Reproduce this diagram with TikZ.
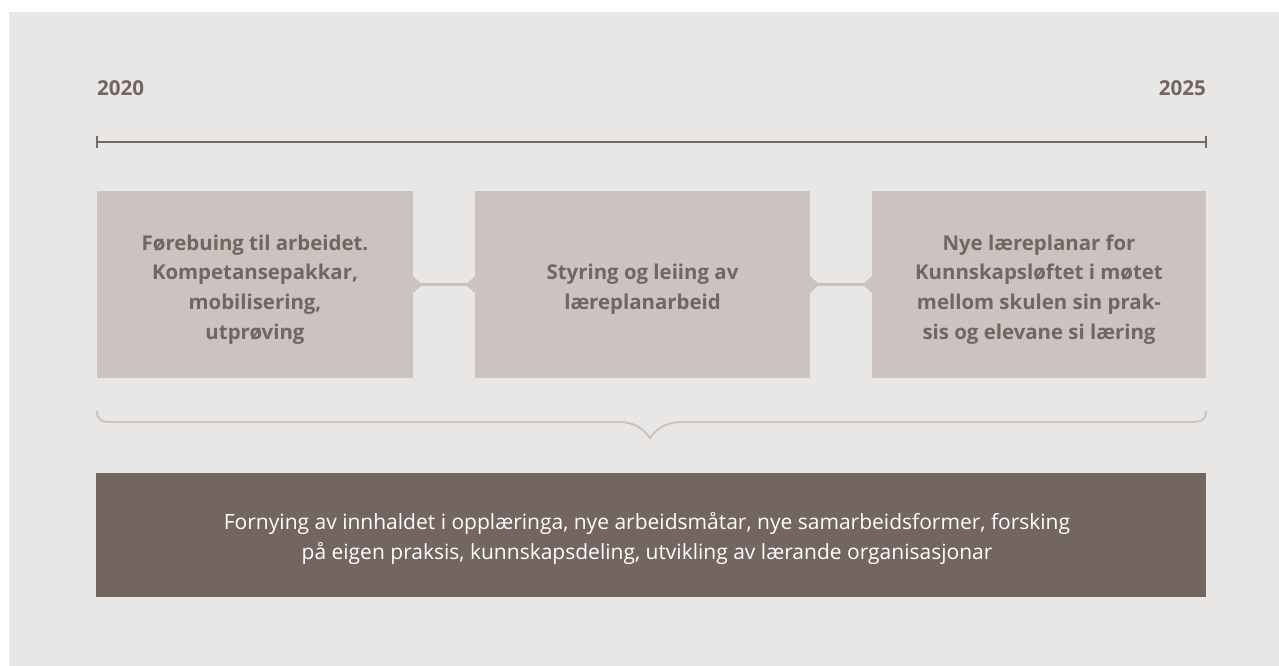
\documentclass[tikz,border=0pt]{standalone}
\usepackage{fontspec}
\setmainfont{Open Sans}
\usetikzlibrary{calc}
\definecolor{bgc}{HTML}{E9E7E5}
\definecolor{boxc}{HTML}{CBC3C0}
\definecolor{darkc}{HTML}{73655F}
\definecolor{linec}{HTML}{766963}
\tikzset{
  stage/.style={fill=boxc, draw=none, minimum height=187pt, inner sep=0pt},
  stagetext/.style={inner sep=0pt, align=center, text=darkc, font=\fontsize{20.4}{29.8}\selectfont\bfseries},
  year/.style={text=darkc, font=\fontsize{20.6}{24}\selectfont\bfseries, inner sep=0pt},
  conn/.style={draw=boxc, line width=2.5pt},
  brace/.style={draw=boxc, line width=2pt},
  tline/.style={draw=linec, line width=2.5pt},
  summary/.style={fill=darkc, minimum width=1110pt, minimum height=124pt, inner sep=0pt},
  summarytext/.style={text=white, inner sep=0pt, align=center, font=\fontsize{21}{30}\selectfont}
}
\begin{document}
\begin{tikzpicture}[x=1pt,y=-1pt]
\useasboundingbox (0,0) rectangle (1279,666);
\fill[bgc] (9,12) rectangle (1279,666);
% years
\node[year, anchor=west] (y1) at (97,88) {2020};
\node[year, anchor=east] (y2) at (1206,88) {2025};
% timeline
\coordinate (t1) at (97,142);
\coordinate (t2) at (1206,142);
\draw[tline] (t1) -- (t2);
\draw[draw=linec, line width=2pt] ($(t1)+(0,-5.5)$) -- ($(t1)+(0,5.5)$);
\draw[draw=linec, line width=2pt] ($(t2)+(0,-5.5)$) -- ($(t2)+(0,5.5)$);
% stages
\node[stage, minimum width=316pt] (b1) at (255,284.5) {};
\node[stage, minimum width=335pt] (b2) at (642.5,284.5) {};
\node[stage, minimum width=334pt] (b3) at (1039,284.5) {};
\node[stagetext] (l1) at ($(b1.center)+(0,5)$) {Førebuing til arbeidet.\\Kompetansepakkar,\\mobilisering,\\utprøving};
\node[stagetext] (l2) at ($(b2.center)+(0,5)$) {Styring og leiing av\\læreplanarbeid};
\node[stagetext] (l3) at ($(b3.center)+(0,5)$) {Nye læreplanar for\\Kunnskapsløftet i møtet\\mellom skulen sin prak-\\sis og elevane si læring};
% notches
\fill[boxc] ($(b1.east)+(-0.5,-9)$) -- ++(9.5,9) -- ++(-9.5,9) -- cycle;
\fill[boxc] ($(b2.west)+(0.5,-9)$) -- ++(-9.5,9) -- ++(9.5,9) -- cycle;
\fill[boxc] ($(b2.east)+(-0.5,-9)$) -- ++(9.5,9) -- ++(-9.5,9) -- cycle;
\fill[boxc] ($(b3.west)+(0.5,-9)$) -- ++(-9.5,9) -- ++(9.5,9) -- cycle;
\draw[conn] ($(b1.east)+(8,0)$) -- ($(b2.west)+(-8,0)$);
\draw[conn] ($(b2.east)+(8,0)$) -- ($(b3.west)+(-8,0)$);
% brace
\draw[brace] (97,411) .. controls (97,420) and (101,422) .. (112,422)
  -- (618,422) .. controls (636,422) and (644,430) .. (650,438)
  .. controls (656,430) and (664,422) .. (682,422)
  -- (1191,422) .. controls (1202,422) and (1206,420) .. (1206,411);
% summary
\node[summary] (s) at (651,535) {};
\node[summarytext] (st) at ($(s.center)+(-4,3.5)$) {Fornying av innhaldet i opplæringa, nye arbeidsmåtar, nye samarbeidsformer, forsking\\på eigen praksis, kunnskapsdeling, utvikling av lærande organisasjonar};
\end{tikzpicture}
\end{document}
